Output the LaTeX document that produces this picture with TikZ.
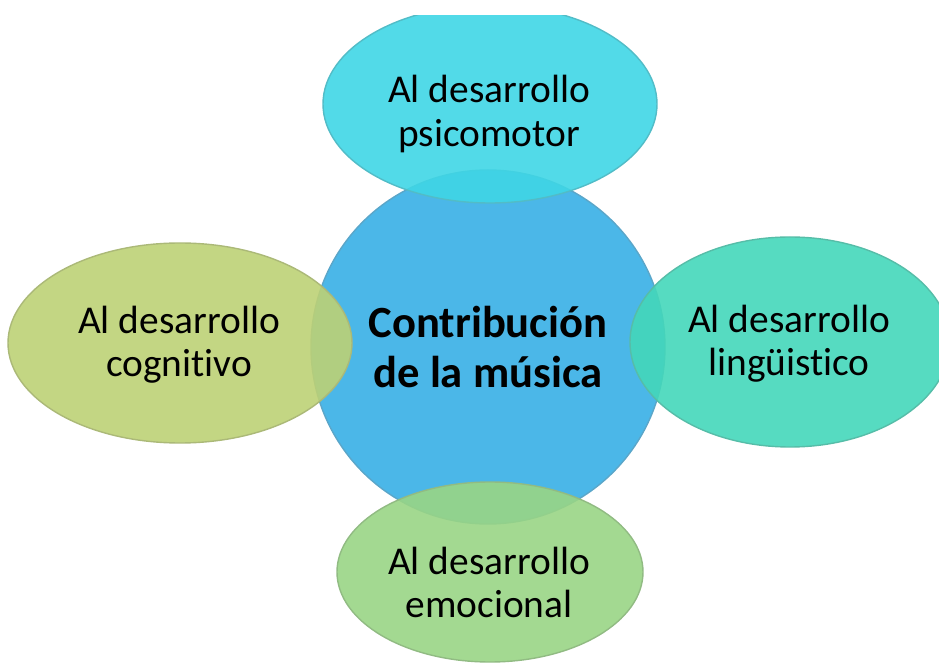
\documentclass[tikz,border=0pt]{standalone}
\usepackage{fontspec}
\setmainfont[Ligatures=NoCommon]{Carlito}
\usetikzlibrary{shapes.geometric}
\definecolor{azulcentro}{HTML}{4BB7E8}
\definecolor{cianpsico}{HTML}{3FD6E5}
\definecolor{verdeling}{HTML}{44D7BA}
\definecolor{limacogn}{HTML}{BDD175}
\definecolor{verdeemoc}{HTML}{99D585}

\begin{document}
\begin{tikzpicture}[x=0.5pt,y=-0.5pt]
  \useasboundingbox (0,0) rectangle (939,668);
  \clip (0,16) rectangle (939,668);
  \tikzset{Burbuja/.style={ellipse, inner sep=0pt,
             fill opacity=0.9, line width=0.7pt},
           Texto/.style={align=center, inner sep=0pt,
             font=\fontsize{19.7}{21.5}\selectfont}}
  \node[circle, minimum size=177pt, inner sep=0pt, align=center,
        fill=azulcentro, draw=azulcentro!70!gray, line width=0.7pt,
        font=\bfseries\fontsize{22.3}{25}\selectfont]
        (Musica) at (488,347) {Contribución\\de la música};
  \node[Burbuja, fill=cianpsico, draw=cianpsico!70!gray,
        minimum width=167pt, minimum height=99pt] (Psico) at (490,104) {};
  \node[Texto] (PsicoTxt) at (489,114) {Al desarrollo\\psicomotor};
  \node[Burbuja, fill=limacogn, draw=limacogn!70!gray,
        minimum width=172pt, minimum height=100pt] (Cogn) at (180,343) {};
  \node[Texto] (CognTxt) at (179,345) {Al desarrollo\\cognitivo};
  \node[Burbuja, fill=verdeling, draw=verdeling!70!gray,
        minimum width=160pt, minimum height=105pt] (Ling) at (790,342) {};
  \node[Texto] (LingTxt) at (789,344) {Al desarrollo\\lingüistico};
  \node[Burbuja, fill=verdeemoc, draw=verdeemoc!70!gray,
        minimum width=153pt, minimum height=90pt] (Emoc) at (490,572) {};
  \node[Texto] (EmocTxt) at (489,582) {Al desarrollo\\emocional};
\end{tikzpicture}
\end{document}
